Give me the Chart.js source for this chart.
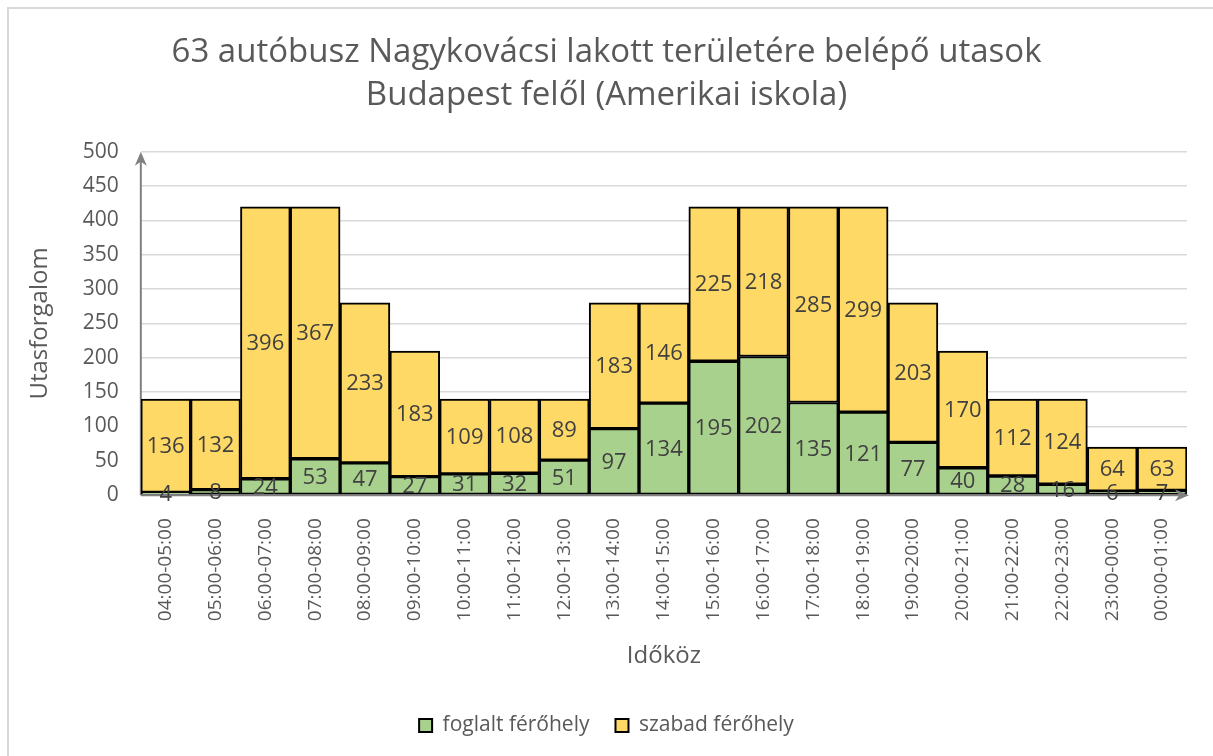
<!DOCTYPE html>
<html>
<head>
<meta charset="utf-8">
<script src="https://cdn.jsdelivr.net/npm/chart.js@4"></script>
<style>
  html, body { margin: 0; padding: 0; background: #fff; overflow: hidden; }
  #frame { position: absolute; left: 7px; top: 7px; width: 1230px; height: 780px; border: 2px solid #d9d9d9; box-sizing: border-box; }
  #wrap { position: absolute; left: 0; top: 0; width: 1213px; height: 756px; }
</style>
</head>
<body>
<div id="frame"></div>
<div id="wrap"><canvas id="busChart"></canvas></div>
<script>
/* ── DATA ── */
const intervals = [
  '04:00-05:00', '05:00-06:00', '06:00-07:00', '07:00-08:00', '08:00-09:00',
  '09:00-10:00', '10:00-11:00', '11:00-12:00', '12:00-13:00', '13:00-14:00',
  '14:00-15:00', '15:00-16:00', '16:00-17:00', '17:00-18:00', '18:00-19:00',
  '19:00-20:00', '20:00-21:00', '21:00-22:00', '22:00-23:00', '23:00-00:00',
  '00:00-01:00'
];
const foglalt = [4, 8, 24, 53, 47, 27, 31, 32, 51, 97, 134, 195, 202, 135, 121, 77, 40, 28, 16, 6, 7];
const szabad  = [136, 132, 396, 367, 233, 183, 109, 108, 89, 183, 146, 225, 218, 285, 299, 203, 170, 112, 124, 64, 63];
const yTicks  = [0, 50, 100, 150, 200, 250, 300, 350, 400, 450, 500];

const FONT = "'Open Sans', sans-serif";
const TXT  = '#595959';

/* ── value labels in the middle of each segment ── */
const segLabels = {
  id: 'segLabels',
  afterDatasetsDraw(chart) {
    const ctx = chart.ctx;
    ctx.save();
    ctx.font = '22px ' + FONT;
    ctx.fillStyle = '#404040';
    ctx.textAlign = 'center';
    ctx.textBaseline = 'middle';
    chart.data.datasets.forEach((ds, i) => {
      chart.getDatasetMeta(i).data.forEach((bar, j) => {
        ctx.fillText(String(ds.data[j]), bar.x, (bar.y + bar.base) / 2 + 1);
      });
    });
    ctx.restore();
  }
};

/* ── gray axis lines with arrow heads ── */
const axisArrows = {
  id: 'axisArrows',
  beforeDatasetsDraw(chart) {
    const { ctx, chartArea: a } = chart;
    ctx.save();
    ctx.strokeStyle = '#808080';
    ctx.fillStyle = '#808080';
    ctx.lineWidth = 2;
    ctx.beginPath();
    ctx.moveTo(a.left, a.bottom);
    ctx.lineTo(a.left, a.top + 4);
    ctx.stroke();
    // up arrow
    ctx.beginPath();
    ctx.moveTo(a.left, a.top);
    ctx.lineTo(a.left - 6, a.top + 14);
    ctx.lineTo(a.left, a.top + 10);
    ctx.lineTo(a.left + 6, a.top + 14);
    ctx.closePath();
    ctx.fill();
    ctx.restore();
  },
  afterDatasetsDraw(chart) {
    const { ctx, chartArea: a } = chart;
    ctx.save();
    ctx.strokeStyle = '#808080';
    ctx.fillStyle = '#808080';
    ctx.lineWidth = 2;
    ctx.beginPath();
    ctx.moveTo(a.left, a.bottom);
    ctx.lineTo(a.right - 4, a.bottom);
    ctx.stroke();
    // right arrow
    ctx.beginPath();
    ctx.moveTo(a.right + 2, a.bottom);
    ctx.lineTo(a.right - 12, a.bottom - 6);
    ctx.lineTo(a.right - 8, a.bottom);
    ctx.lineTo(a.right - 12, a.bottom + 6);
    ctx.closePath();
    ctx.fill();
    ctx.restore();
  }
};

new Chart(document.getElementById('busChart').getContext('2d'), {
  type: 'bar',
  data: {
    labels: intervals,
    datasets: [
      { label: 'foglalt férőhely', data: foglalt, backgroundColor: '#a9d18e', borderColor: '#000', borderWidth: 2, borderSkipped: false },
      { label: 'szabad férőhely',  data: szabad,  backgroundColor: '#ffd966', borderColor: '#000', borderWidth: 2, borderSkipped: false },
    ],
  },
  plugins: [axisArrows, segLabels],
  options: {
    responsive: true,
    maintainAspectRatio: false,
    animation: false,
    layout: { padding: { left: 26, right: 26, top: 8, bottom: 10 } },
    datasets: { bar: { barPercentage: 1, categoryPercentage: 1 } },
    plugins: {
      title: {
        display: true,
        text: ['63 autóbusz Nagykovácsi lakott területére belépő utasok', 'Budapest felől (Amerikai iskola)'],
        color: TXT,
        font: { family: FONT, size: 33, weight: 'normal', lineHeight: 1.3 },
        padding: { top: 23, bottom: 35 },
      },
      legend: {
        position: 'bottom',
        labels: {
          color: TXT,
          font: { family: FONT, size: 21 },
          boxWidth: 13, boxHeight: 13, padding: 26,
        },
      },
      tooltip: { enabled: false },
    },
    scales: {
      x: {
        stacked: true,
        grid: { display: false },
        border: { display: false },
        ticks: { color: TXT, font: { family: FONT, size: 19 }, minRotation: 90, maxRotation: 90, padding: 15, autoSkip: false },
        title: { display: true, text: 'Időköz', color: TXT, font: { family: FONT, size: 24 }, padding: { top: 6, bottom: 18 } },
      },
      y: {
        stacked: true,
        min: 0, max: 500,
        afterBuildTicks: s => { s.ticks = yTicks.map(v => ({ value: v })); },
        grid: { color: '#d9d9d9', lineWidth: 1.5, drawTicks: false },
        border: { display: false },
        ticks: { color: TXT, font: { family: FONT, size: 21 }, padding: 22 },
        title: { display: true, text: 'Utasforgalom', color: TXT, font: { family: FONT, size: 24 }, padding: { top: 0, bottom: 6 } },
      },
    },
  },
});
</script>
</body>
</html>
